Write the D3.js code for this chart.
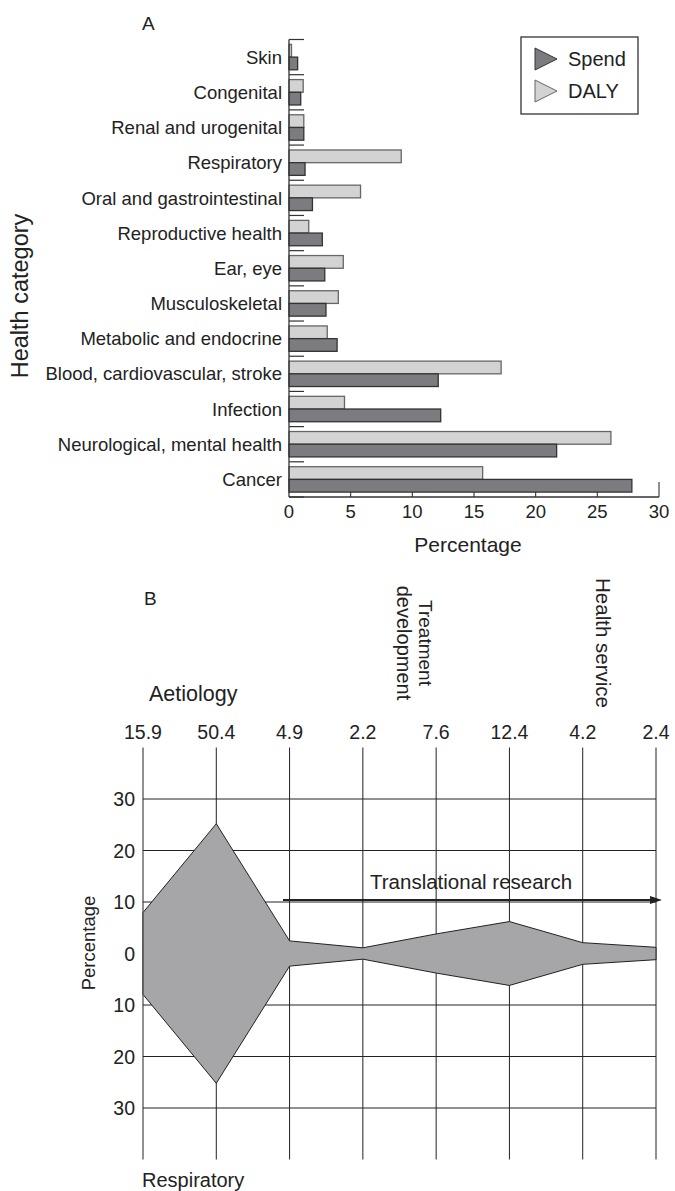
<!DOCTYPE html>
<html>
<head>
<meta charset="utf-8">
<script src="https://cdn.jsdelivr.net/npm/d3@7"></script>
<style>
  body { margin: 0; background: #fff; }
  text { font-family: "Liberation Sans", Arial, sans-serif; fill: #222; }
</style>
</head>
<body>
<script>
// panel A data
const categories = ["Skin", "Congenital", "Renal and urogenital", "Respiratory",
  "Oral and gastrointestinal", "Reproductive health", "Ear, eye", "Musculoskeletal",
  "Metabolic and endocrine", "Blood, cardiovascular, stroke", "Infection",
  "Neurological, mental health", "Cancer"];
const daly  = [0.2, 1.15, 1.2, 9.1, 5.8, 1.6, 4.4, 4.0, 3.1, 17.2, 4.5, 26.1, 15.7];
const spend = [0.7, 0.95, 1.2, 1.3, 1.9, 2.7, 2.9, 3.0, 3.9, 12.1, 12.3, 21.7, 27.8];
const xTicksA = [0, 5, 10, 15, 20, 25, 30];
const seriesA = ["DALY", "Spend"];

// panel B data
const stageValues = [15.9, 50.4, 4.9, 2.2, 7.6, 12.4, 4.2, 2.4];
const yTicksB = [-30, -20, -10, 0, 10, 20, 30];

const width = 675, height = 1191;
const svg = d3.select("body").append("svg")
    .attr("width", width)
    .attr("height", height);

// ---------- A ----------
const x = d3.scaleLinear().domain([0, 30]).range([289, 659]);
const y = d3.scaleBand().domain(categories).range([39.5, 497]);
const yInner = d3.scaleBand().domain(seriesA).range([0, y.bandwidth()]).paddingOuter(0.386);
const colors = { DALY: "#d3d3d4", Spend: "#7c7c80" };
const strokes = { DALY: "#666", Spend: "#333" };

svg.append("text").attr("x", 142).attr("y", 30).attr("font-size", 19).text("A");

const rows = categories.map((c, i) => ({ c, DALY: daly[i], Spend: spend[i] }));
const gA = svg.append("g");
gA.selectAll("g.row")
  .data(rows)
  .join("g")
    .attr("transform", d => `translate(0,${y(d.c)})`)
  .selectAll("rect")
  .data(d => seriesA.map(k => ({ k, v: d[k] })))
  .join("rect")
    .attr("x", x(0))
    .attr("y", d => yInner(d.k))
    .attr("width", d => x(d.v) - x(0))
    .attr("height", yInner.bandwidth())
    .attr("fill", d => colors[d.k])
    .attr("stroke", d => strokes[d.k])
    .attr("stroke-width", 1.3);

// short marks between groups
const bounds = d3.range(categories.length + 1).map(i => y.range()[0] + i * y.step());
gA.selectAll("line.sep")
  .data(bounds)
  .join("line")
    .attr("x1", x(0)).attr("x2", x(0) + 15)
    .attr("y1", d => d).attr("y2", d => d)
    .attr("stroke", "#333").attr("stroke-width", 1.2);

// category labels
gA.selectAll("text.cat")
  .data(categories)
  .join("text")
    .attr("x", x(0) - 7)
    .attr("y", d => y(d) + y.bandwidth() / 2)
    .attr("dy", "0.36em")
    .attr("text-anchor", "end")
    .attr("font-size", 18.5)
    .text(d => d);

// axes lines
gA.append("line").attr("x1", x(0)).attr("x2", x(0)).attr("y1", 39.5).attr("y2", 497)
  .attr("stroke", "#333").attr("stroke-width", 1.3);
gA.append("line").attr("x1", x(0)).attr("x2", x(30)).attr("y1", 497).attr("y2", 497)
  .attr("stroke", "#333").attr("stroke-width", 1.3);
gA.selectAll("line.xt")
  .data(xTicksA.slice(1))
  .join("line")
    .attr("x1", d => x(d)).attr("x2", d => x(d))
    .attr("y1", 497).attr("y2", d => d === 30 ? 482 : 492)
    .attr("stroke", "#333").attr("stroke-width", 1.1);
gA.selectAll("text.xl")
  .data(xTicksA)
  .join("text")
    .attr("x", d => x(d))
    .attr("y", 518)
    .attr("text-anchor", "middle")
    .attr("font-size", 18.5)
    .text(d => d);
gA.append("text").attr("x", 468).attr("y", 552).attr("text-anchor", "middle")
  .attr("font-size", 21).text("Percentage");
gA.append("text")
  .attr("transform", "translate(28,296) rotate(-90)")
  .attr("text-anchor", "middle")
  .attr("font-size", 23.5)
  .text("Health category");

// legend
const leg = svg.append("g");
leg.append("rect").attr("x", 521).attr("y", 37).attr("width", 117).attr("height", 77)
  .attr("fill", "none").attr("stroke", "#333").attr("stroke-width", 1.3);
["Spend", "DALY"].forEach((k, i) => {
  const cy = 59 + i * 32;
  leg.append("path")
    .attr("d", `M535,${cy - 11}L557,${cy}L535,${cy + 11}Z`)
    .attr("fill", colors[k]).attr("stroke", strokes[k]).attr("stroke-width", 1);
  leg.append("text").attr("x", 568).attr("y", cy + 7).attr("font-size", 20).text(k);
});

// ---------- B ----------
const xB = d3.scalePoint().domain(d3.range(stageValues.length)).range([143, 656]);
const yB = d3.scaleLinear().domain([-40, 40]).range([1159.5, 747.5]);

svg.append("text").attr("x", 144).attr("y", 605).attr("font-size", 19).text("B");

const gB = svg.append("g");
gB.selectAll("line.v")
  .data(stageValues.map((v, i) => i))
  .join("line")
    .attr("x1", d => xB(d)).attr("x2", d => xB(d))
    .attr("y1", yB(40)).attr("y2", yB(-40))
    .attr("stroke", "#222").attr("stroke-width", 1);
gB.selectAll("line.h")
  .data(yTicksB.filter(d => d !== 0))
  .join("line")
    .attr("x1", xB(0)).attr("x2", xB(stageValues.length - 1))
    .attr("y1", d => yB(d)).attr("y2", d => yB(d))
    .attr("stroke", "#222").attr("stroke-width", 1);

const area = d3.area()
    .x((d, i) => xB(i))
    .y0(d => yB(-d / 2))
    .y1(d => yB(d / 2));
gB.append("path")
  .datum(stageValues)
  .attr("d", area)
  .attr("fill", "#a6a6a9")
  .attr("stroke", "#222")
  .attr("stroke-width", 1);

gB.selectAll("text.yl")
  .data(yTicksB)
  .join("text")
    .attr("x", 135)
    .attr("y", d => yB(d))
    .attr("dy", "0.36em")
    .attr("text-anchor", "end")
    .attr("font-size", 19.5)
    .text(d => Math.abs(d));

gB.selectAll("text.top")
  .data(stageValues)
  .join("text")
    .attr("x", (d, i) => xB(i))
    .attr("y", 739)
    .attr("text-anchor", "middle")
    .attr("font-size", 19.5)
    .text(d => d.toFixed(1));

gB.append("text").attr("x", 149).attr("y", 701).attr("font-size", 21.5).text("Aetiology");
gB.append("text")
  .attr("transform", "translate(419,643) rotate(90)")
  .attr("text-anchor", "middle").attr("font-size", 19).text("Treatment");
gB.append("text")
  .attr("transform", "translate(397,643) rotate(90)")
  .attr("text-anchor", "middle").attr("font-size", 20).text("development");
gB.append("text")
  .attr("transform", "translate(596,643) rotate(90)")
  .attr("text-anchor", "middle").attr("font-size", 20.5).text("Health service");

gB.append("text").attr("x", 142).attr("y", 1187).attr("font-size", 20).text("Respiratory");
gB.append("text")
  .attr("transform", "translate(95,943) rotate(-90)")
  .attr("text-anchor", "middle").attr("font-size", 18.5).text("Percentage");

// translational research arrow
gB.append("line").attr("x1", 283).attr("x2", 652).attr("y1", 900).attr("y2", 900)
  .attr("stroke", "#222").attr("stroke-width", 1.8);
gB.append("path").attr("d", "M650,896L662,900L650,904Z").attr("fill", "#222");
gB.append("text").attr("x", 370).attr("y", 889).attr("font-size", 20.5).text("Translational research");
</script>
</body>
</html>
